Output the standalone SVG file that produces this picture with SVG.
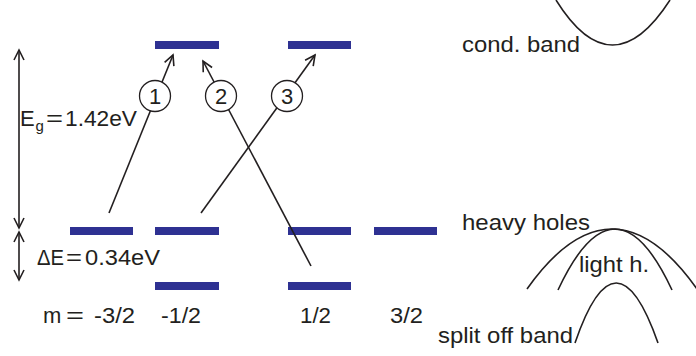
<svg xmlns="http://www.w3.org/2000/svg" width="696" height="356" viewBox="0 0 696 356">
<style>
.lvl{fill:#2e3192}
.t{font-family:"Liberation Sans",Arial,sans-serif;font-size:22px;fill:#231f20}
.ln{stroke:#231f20;stroke-width:1.6;fill:none}
.c{fill:#fff;stroke:#231f20;stroke-width:1.3}
</style>
<defs>
<marker id="ah" markerUnits="userSpaceOnUse" markerWidth="14" markerHeight="14" viewBox="-12 -7 14 14" refX="0" refY="0" orient="auto-start-reverse">
<path d="M-10,-5 L0,0 L-10,5" fill="none" stroke="#231f20" stroke-width="1.6"/>
</marker>
</defs>
<rect width="696" height="356" fill="#fff"/>
<g id="levels">
<rect class="lvl" x="155" y="41" width="64" height="8"/>
<rect class="lvl" x="288" y="41" width="63" height="8"/>
<rect class="lvl" x="70" y="227" width="63" height="8"/>
<rect class="lvl" x="155" y="227" width="64" height="8"/>
<rect class="lvl" x="288" y="227" width="63" height="8"/>
<rect class="lvl" x="374" y="227" width="63" height="8"/>
<rect class="lvl" x="155" y="282" width="64" height="8"/>
<rect class="lvl" x="288" y="282" width="63" height="8"/>
</g>
<g id="bands">
<path class="ln" d="M556,0 Q612,90 670,0"/>
<path class="ln" d="M527,289 Q612,169 697,289"/>
<path class="ln" d="M558,290 Q615,168 672,290"/>
<path class="ln" d="M575,343 Q616,223 658,343"/>
</g>
<g id="connectors">
<line class="ln" x1="19" y1="228" x2="19" y2="50" marker-start="url(#ah)" marker-end="url(#ah)"/>
<line class="ln" x1="19" y1="280" x2="19" y2="232" marker-start="url(#ah)" marker-end="url(#ah)"/>
<line class="ln" x1="109" y1="213" x2="173" y2="55" marker-end="url(#ah)"/>
<line class="ln" x1="311" y1="266" x2="203" y2="61" marker-end="url(#ah)"/>
<line class="ln" x1="201" y1="213" x2="315" y2="55" marker-end="url(#ah)"/>
</g>
<g id="circle1"><circle class="c" cx="155" cy="96" r="15.5"/><text class="t" x="155" y="104" text-anchor="middle">1</text></g>
<g id="circle2"><circle class="c" cx="221" cy="96" r="15.5"/><text class="t" x="221" y="104" text-anchor="middle">2</text></g>
<g id="circle3"><circle class="c" cx="287" cy="96" r="15.5"/><text class="t" x="287" y="104" text-anchor="middle">3</text></g>
<g id="labels">
<text class="t" x="20" y="126">E</text>
<text class="t" x="35.5" y="131" style="font-size:15px">g</text>
<text class="t" x="46" y="126" textLength="17" lengthAdjust="spacingAndGlyphs">=</text>
<text class="t" x="65" y="126" textLength="72" lengthAdjust="spacingAndGlyphs">1.42eV</text>
<text class="t" x="37" y="265" textLength="27" lengthAdjust="spacingAndGlyphs">ΔE</text>
<text class="t" x="66" y="265" textLength="16" lengthAdjust="spacingAndGlyphs">=</text>
<text class="t" x="85" y="265" textLength="75" lengthAdjust="spacingAndGlyphs">0.34eV</text>
<text class="t" x="43" y="323">m</text>
<text class="t" x="66" y="323" textLength="18" lengthAdjust="spacingAndGlyphs">=</text>
<text class="t" x="94" y="323" textLength="41" lengthAdjust="spacingAndGlyphs">-3/2</text>
<text class="t" x="161" y="323" textLength="40" lengthAdjust="spacingAndGlyphs">-1/2</text>
<text class="t" x="300" y="323" textLength="31" lengthAdjust="spacingAndGlyphs">1/2</text>
<text class="t" x="390" y="323" textLength="33" lengthAdjust="spacingAndGlyphs">3/2</text>
<text class="t" x="462" y="52" textLength="118" lengthAdjust="spacingAndGlyphs">cond. band</text>
<text class="t" x="462" y="230" textLength="128" lengthAdjust="spacingAndGlyphs">heavy holes</text>
<text class="t" x="579" y="272" textLength="70" lengthAdjust="spacingAndGlyphs">light h.</text>
<text class="t" x="438" y="343" textLength="135" lengthAdjust="spacingAndGlyphs">split off band</text>
</g>
</svg>
